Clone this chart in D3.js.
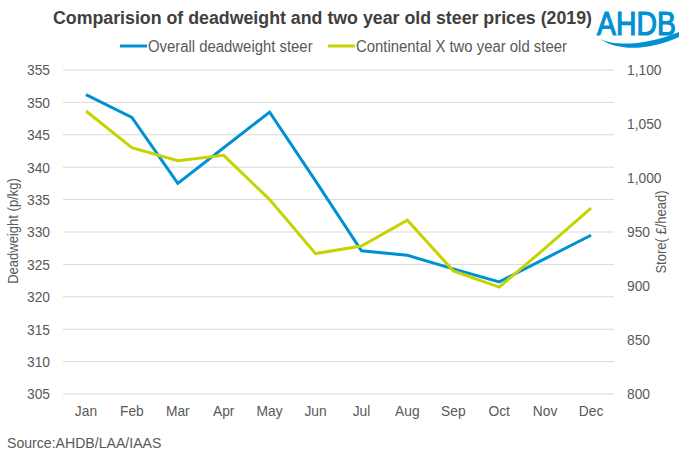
<!DOCTYPE html>
<html>
<head>
<meta charset="utf-8">
<script src="https://cdn.jsdelivr.net/npm/d3@7"></script>
<style>
  body { margin: 0; background: #fff; }
  text { font-family: "Liberation Sans", Arial, sans-serif; fill: #595959; }
</style>
</head>
<body>
<div id="chart"></div>
<script>
// donnees
const months = ["Jan", "Feb", "Mar", "Apr", "May", "Jun", "Jul", "Aug", "Sep", "Oct", "Nov", "Dec"];
const deadweight = [351.2, 347.7, 337.5, 343.0, 348.5, 337.9, 327.1, 326.4, 324.3, 322.3, 325.9, 329.5];
const store = [1062, 1028, 1016, 1021, 980, 930, 937, 961, 914, 899, 935, 972];
const leftTicks = d3.range(305, 356, 5);
const rightTicks = d3.range(800, 1101, 50);

const width = 681, height = 454;
const plot = { left: 63, right: 614, top: 70, bottom: 394 };
const blue = "#0091d2", green = "#c6d300";

const svg = d3.select("#chart")
  .append("svg")
  .attr("width", width)
  .attr("height", height);

// texte un peu resserre comme dans Excel
function condense(sel, factor) {
  sel.each(function () {
    const w = this.getComputedTextLength();
    d3.select(this)
      .attr("textLength", w * factor)
      .attr("lengthAdjust", "spacingAndGlyphs");
  });
}

const x = d3.scaleBand()
  .domain(months)
  .range([plot.left, plot.right]);

const yLeft = d3.scaleLinear().domain([305, 355]).range([plot.bottom, plot.top]);
const yRight = d3.scaleLinear().domain([800, 1100]).range([plot.bottom, plot.top]);

// grille
svg.append("g")
  .selectAll("line")
  .data(leftTicks)
  .join("line")
  .attr("x1", plot.left)
  .attr("x2", plot.right)
  .attr("y1", d => yLeft(d))
  .attr("y2", d => yLeft(d))
  .style("stroke", "#d9d9d9")
  .style("stroke-width", 1);

// axe gauche
const axisLeft = svg.append("g")
  .attr("transform", `translate(${plot.left - 13},0)`)
  .call(d3.axisLeft(yLeft).tickValues(leftTicks).tickSize(0).tickPadding(0));
axisLeft.select(".domain").remove();
axisLeft.selectAll("text").style("font-size", "15px").style("fill", "#595959")
  .attr("font-family", null).call(condense, 0.92);

// axe droit
const fmt = d3.format(",");
const axisRight = svg.append("g")
  .attr("transform", `translate(${plot.right + 13},0)`)
  .call(d3.axisRight(yRight).tickValues(rightTicks).tickFormat(fmt).tickSize(0).tickPadding(0));
axisRight.select(".domain").remove();
axisRight.selectAll("text").style("font-size", "15px").style("fill", "#595959")
  .attr("font-family", null).call(condense, 0.92);

// axe x
const axisX = svg.append("g")
  .attr("transform", `translate(0,${plot.bottom + 11})`)
  .call(d3.axisBottom(x).tickSize(0).tickPadding(0));
axisX.select(".domain").remove();
axisX.selectAll("text").style("font-size", "15px").style("fill", "#595959")
  .attr("font-family", null).call(condense, 0.92);

// titres des axes
svg.append("text")
  .attr("transform", `translate(18,231) rotate(-90)`)
  .attr("text-anchor", "middle")
  .style("font-size", "14px")
  .text("Deadweight (p/kg)")
  .call(condense, 0.93);

svg.append("text")
  .attr("transform", `translate(666,232) rotate(-90)`)
  .attr("text-anchor", "middle")
  .style("font-size", "14px")
  .text("Store( £/head)")
  .call(condense, 0.93);

// courbes
const cx = d => x(d) + x.bandwidth() / 2;

svg.append("path")
  .datum(deadweight)
  .attr("d", d3.line().x((d, i) => cx(months[i])).y(d => yLeft(d)))
  .style("fill", "none")
  .style("stroke", blue)
  .style("stroke-width", 3);

svg.append("path")
  .datum(store)
  .attr("d", d3.line().x((d, i) => cx(months[i])).y(d => yRight(d)))
  .style("fill", "none")
  .style("stroke", green)
  .style("stroke-width", 3);

// titre
svg.append("text")
  .attr("x", 53)
  .attr("y", 24)
  .style("font-size", "18px")
  .style("font-weight", "bold")
  .style("fill", "#404040")
  .attr("textLength", 539)
  .attr("lengthAdjust", "spacingAndGlyphs")
  .text("Comparision of deadweight and two year old steer prices (2019)");

// legende
const legend = [
  { label: "Overall deadweight steer", color: blue, x: 120 },
  { label: "Continental X two year old steer", color: green, x: 328 }
];
const lg = svg.append("g").selectAll("g").data(legend).join("g")
  .attr("transform", d => `translate(${d.x},46)`);
lg.append("line")
  .attr("x1", 0).attr("x2", 27)
  .style("stroke", d => d.color)
  .style("stroke-width", 3);
lg.append("text")
  .attr("x", 28)
  .attr("y", 5.5)
  .style("font-size", "16px")
  .text(d => d.label)
  .call(condense, 0.93);

// source
svg.append("text")
  .attr("x", 7)
  .attr("y", 448)
  .style("font-size", "15px")
  .text("Source:AHDB/LAA/IAAS")
  .call(condense, 0.94);

// logo AHDB
const logo = svg.append("g");
logo.append("text")
  .attr("transform", "translate(597,35) scale(0.86,1)")
  .style("font-size", "33px")
  .style("fill", blue)
  .style("stroke", blue)
  .style("stroke-width", 1.2)
  .text("AHDB");
logo.append("path")
  .attr("d", "M600,39 C615,46 645,46 679,32 L679,37 C650,50 620,52 600,39 Z")
  .style("fill", blue);
</script>
</body>
</html>
